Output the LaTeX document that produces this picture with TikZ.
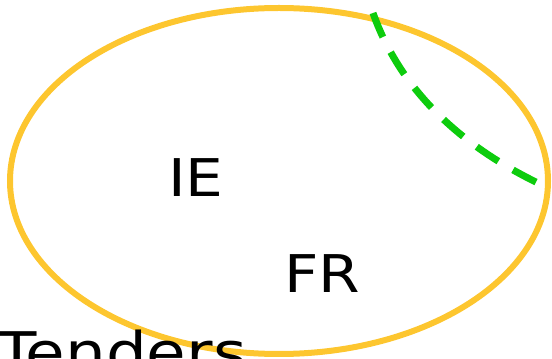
\documentclass[tikz,border=0pt]{standalone}
\usepackage{fontspec}
\setmainfont[FakeStretch=1.15]{DejaVu Sans}
\definecolor{ellcol}{HTML}{FDC62F}
\definecolor{dashgreen}{HTML}{0DCC0D}
\begin{document}
\begin{tikzpicture}[x=1pt,y=1pt,
  lbl/.style={font=\fontsize{52}{60}\selectfont, inner sep=0pt},
  region/.style={draw=ellcol, line width=6pt},
  border/.style={draw=dashgreen, line width=7pt, dash pattern=on 26pt off 17pt}]
\useasboundingbox (0,0) rectangle (552,359);
\draw[region] (279,178) ellipse [x radius=269, y radius=173];
\coordinate (b1) at (373,346);
\coordinate (b2) at (540,175);
\draw[border] (b1) .. controls (401,267) and (463,212) .. (b2);
\node[lbl] (ie) at (196,181) {IE};
\node[lbl] (fr) at (322,85) {FR};
\node[lbl, font=\fontsize{56}{64}\selectfont, anchor=base west] (tenders) at (-3,-14) {Tenders};
\end{tikzpicture}
\end{document}
